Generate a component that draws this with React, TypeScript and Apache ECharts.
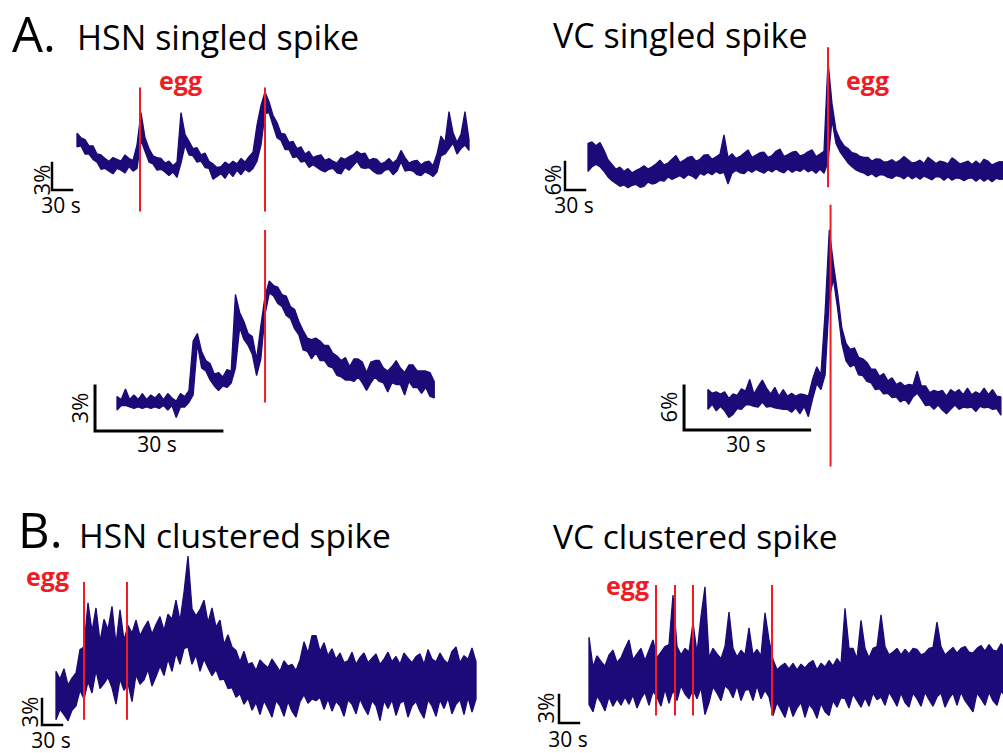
import React, { useEffect, useRef } from "react";
import * as echarts from "echarts";

const NAVY = "#1b0a78";
const RED = "#ee1c25";
const FONT = '"Open Sans", "Noto Sans", sans-serif';

// sample intervals (s)
const dtOverview = 6;
const dtZoom = 1;

// Each noisy ΔF/F (%) trace is kept as its upper and lower envelope.

// A. HSN singled spike (overview)
const hsnSingleHigh = [
  6.3, 5.8, 5.6, 4.9, 4.9, 4.0, 3.9, 3.5, 3.2, 3.6,
  3.4, 3.2, 3.9, 3.5, 3.3, 5.0, 8.6, 5.8, 4.6, 3.8,
  3.6, 3.5, 3.0, 3.2, 2.7, 3.1, 8.6, 6.2, 5.4, 4.6,
  4.7, 3.9, 4.1, 3.2, 2.9, 2.5, 2.6, 3.1, 2.8, 3.2,
  2.9, 3.5, 3.1, 3.7, 4.2, 7.2, 9.4, 10.9, 9.8, 8.3,
  7.5, 6.3, 6.2, 5.3, 5.4, 4.6, 4.8, 4.0, 4.3, 3.6,
  3.8, 3.9, 3.3, 3.5, 3.2, 3.0, 3.6, 3.4, 3.7, 3.9,
  4.3, 4.0, 4.1, 3.3, 3.5, 3.4, 2.9, 3.1, 3.5, 3.0,
  3.4, 4.4, 3.6, 3.0, 3.2, 3.3, 2.8, 3.1, 3.2, 2.7,
  4.0, 6.0, 5.3, 8.7, 6.4, 5.3, 6.2, 8.7, 5.6,
];
const hsnSingleLow = [
  4.8, 4.9, 4.0, 4.0, 3.4, 3.1, 2.3, 2.4, 2.1, 1.8,
  2.4, 2.2, 1.9, 2.6, 2.1, 2.4, 5.5, 4.3, 3.1, 2.9,
  2.2, 2.3, 2.0, 1.6, 2.0, 1.4, 3.0, 5.0, 3.9, 3.8,
  3.1, 3.2, 2.5, 2.4, 1.2, 1.5, 1.8, 1.3, 2.0, 1.5,
  2.2, 1.7, 2.3, 2.0, 2.4, 3.2, 5.0, 8.5, 8.6, 7.2,
  5.8, 5.5, 4.5, 4.5, 3.6, 3.7, 3.1, 3.2, 2.5, 2.8,
  2.5, 2.2, 2.0, 2.3, 2.4, 1.9, 1.8, 2.5, 2.2, 2.7,
  3.2, 2.5, 2.4, 2.5, 2.1, 1.8, 1.8, 2.2, 2.3, 1.7,
  2.1, 3.1, 2.1, 2.2, 2.1, 1.7, 1.6, 2.0, 1.8, 1.5,
  2.0, 3.8, 4.0, 4.6, 5.2, 4.0, 4.6, 5.0, 4.4,
];

// A. VC singled spike (overview)
const vcSingleHigh = [
  10.0, 10.3, 9.5, 10.2, 8.5, 6.5, 5.5, 4.5, 4.9, 4.0,
  4.6, 3.7, 4.2, 4.6, 5.2, 4.5, 5.0, 5.6, 6.4, 5.4,
  5.8, 6.6, 7.4, 5.9, 6.4, 7.0, 7.2, 6.2, 6.6, 7.5,
  7.6, 6.6, 7.1, 7.7, 11.8, 7.0, 7.8, 6.8, 7.2, 7.9,
  8.6, 7.0, 7.5, 8.0, 8.1, 7.0, 7.4, 8.3, 8.8, 7.2,
  7.6, 8.1, 8.3, 7.3, 7.6, 8.2, 8.6, 7.2, 7.7, 8.3,
  27.5, 18.5, 12.8, 10.8, 9.5, 8.9, 8.0, 7.8, 7.2, 7.0,
  7.0, 6.2, 6.7, 6.6, 6.0, 6.1, 6.5, 5.9, 6.4, 7.2,
  6.5, 5.8, 6.0, 6.4, 5.7, 7.0, 6.4, 5.7, 6.2, 6.0,
  5.6, 6.9, 6.3, 5.6, 5.9, 6.2, 5.5, 6.2, 5.5, 6.6,
  6.2, 5.4, 5.8, 6.1, 6.0,
];
const vcSingleLow = [
  4.0, 5.0, 5.5, 5.0, 4.0, 2.8, 2.0, 1.4, 0.8, 1.1,
  0.5, 1.0, 1.2, 0.6, 0.8, 1.7, 1.3, 1.5, 2.1, 1.9,
  2.8, 2.3, 2.7, 3.1, 2.5, 3.3, 3.0, 2.4, 3.6, 3.2,
  3.8, 3.3, 4.0, 3.5, 3.8, 1.3, 3.6, 4.2, 3.7, 3.5,
  4.3, 3.8, 4.4, 4.0, 3.6, 4.3, 3.9, 4.5, 4.0, 3.7,
  4.5, 3.8, 4.3, 4.0, 4.6, 3.9, 4.3, 3.6, 4.5, 3.6,
  6.0, 15.0, 10.0, 8.2, 7.0, 5.8, 5.0, 4.3, 3.9, 3.6,
  3.1, 3.5, 2.8, 3.3, 3.2, 2.7, 2.5, 3.1, 2.9, 2.4,
  3.1, 2.4, 2.9, 2.3, 3.0, 2.6, 2.2, 2.9, 2.8, 2.1,
  2.8, 2.1, 2.6, 2.5, 2.0, 2.5, 2.6, 1.9, 2.6, 1.9,
  2.5, 1.8, 2.5, 2.3, 2.4,
];

// A. HSN singled spike (expanded)
const hsnZoomHigh = [
  2.3, 2.1, 2.8, 2.1, 2.4, 2.1, 2.5, 2.1, 2.4, 2.2,
  2.5, 2.1, 2.5, 2.2, 2.0, 2.5, 2.3, 2.7, 6.0, 6.5,
  5.3, 4.7, 4.5, 3.8, 3.9, 3.6, 4.1, 4.0, 9.1, 7.9,
  7.3, 6.5, 6.3, 4.8, 7.0, 9.0, 10.0, 9.7, 9.6, 9.1,
  9.0, 8.3, 8.1, 7.3, 6.7, 6.2, 6.1, 6.2, 6.0, 5.7,
  5.7, 5.2, 5.0, 4.7, 4.9, 4.3, 4.8, 4.8, 4.6, 3.9,
  4.6, 4.7, 4.7, 4.2, 4.0, 4.3, 4.7, 4.2, 3.9, 4.4,
  4.4, 4.0, 4.0, 4.0, 3.9, 3.3,
];
const hsnZoomLow = [
  1.4, 1.7, 1.7, 1.6, 1.5, 1.6, 1.5, 1.6, 1.5, 1.6,
  1.5, 1.7, 1.4, 1.7, 0.9, 1.6, 1.6, 1.9, 2.4, 5.8,
  4.2, 4.0, 3.4, 3.0, 2.7, 3.0, 2.9, 3.2, 4.2, 6.9,
  6.1, 5.7, 5.1, 3.7, 4.8, 7.8, 9.2, 9.0, 8.5, 8.3,
  7.7, 7.5, 6.8, 6.4, 5.4, 5.3, 4.8, 5.2, 4.7, 4.7,
  4.3, 4.2, 3.7, 3.6, 3.4, 3.4, 3.3, 3.6, 3.2, 2.7,
  3.2, 3.6, 3.3, 3.2, 2.6, 3.2, 3.1, 3.1, 2.4, 3.3,
  2.9, 2.9, 2.5, 2.9, 2.3, 2.2,
];

// A. VC singled spike (expanded)
const vcZoomHigh = [
  5.5, 5.0, 5.2, 4.9, 5.2, 4.3, 4.9, 4.7, 5.6, 5.3,
  6.9, 4.9, 5.9, 6.8, 5.7, 4.9, 5.8, 4.6, 5.5, 4.6,
  5.0, 4.6, 4.9, 4.8, 4.6, 6.9, 8.6, 7.5, 16.0, 27.3,
  22.6, 18.6, 13.9, 11.8, 11.0, 11.2, 9.9, 9.7, 9.2, 8.3,
  8.3, 7.3, 7.7, 6.7, 7.1, 6.2, 6.5, 6.0, 6.2, 6.1,
  8.0, 6.0, 6.0, 5.1, 5.4, 5.2, 5.4, 4.6, 5.5, 5.1,
  5.5, 4.8, 5.7, 4.8, 5.2, 4.9, 5.7, 4.8, 5.5, 4.6,
  4.5,
];
const vcZoomLow = [
  2.8, 3.5, 2.6, 3.2, 2.6, 1.7, 2.1, 2.9, 2.8, 3.4,
  3.4, 3.2, 3.1, 3.8, 3.1, 3.2, 3.0, 2.9, 2.8, 2.8,
  2.4, 3.0, 2.2, 3.2, 1.8, 4.2, 6.3, 5.5, 7.5, 18.0,
  20.6, 16.5, 11.8, 9.4, 8.6, 8.9, 7.5, 7.4, 6.6, 6.4,
  5.5, 5.6, 4.9, 5.0, 4.4, 4.5, 3.8, 4.2, 3.5, 4.5,
  5.0, 4.2, 3.3, 3.4, 2.8, 3.4, 2.7, 2.2, 2.8, 3.4,
  2.8, 3.1, 3.0, 3.1, 2.5, 3.2, 3.0, 3.1, 2.8, 2.9,
  2.0,
];

// B. HSN clustered spike
const hsnClusterHigh = [
  6.2, 5.3, 6.5, 4.6, 5.4, 6.0, 8.7, 9.0, 14.1, 10.8,
  13.5, 9.6, 12.2, 11.0, 13.7, 9.3, 13.3, 9.8, 11.5, 10.6,
  12.1, 10.3, 11.2, 12.0, 10.5, 11.6, 12.5, 10.9, 12.8, 12.2,
  14.4, 12.0, 15.3, 19.5, 13.4, 12.6, 13.3, 14.4, 11.8, 13.5,
  11.3, 12.1, 9.3, 10.4, 9.0, 8.6, 7.3, 8.5, 7.0, 7.2,
  6.3, 7.5, 7.0, 6.6, 7.6, 6.9, 6.2, 7.4, 6.8, 7.0,
  6.3, 7.5, 9.6, 8.3, 10.3, 10.3, 8.5, 9.5, 8.0, 8.8,
  7.6, 8.3, 7.2, 7.4, 8.4, 7.0, 7.8, 8.3, 7.2, 7.7,
  8.2, 7.0, 7.6, 8.4, 7.3, 7.9, 7.0, 8.3, 7.7, 7.2,
  7.9, 8.2, 7.0, 8.7, 7.6, 7.3, 8.3, 7.5, 7.1, 8.5,
  9.0, 7.2, 8.0, 7.6, 8.9, 7.3,
];
const hsnClusterLow = [
  0.6, 1.8, 1.2, 0.5, 1.7, 2.2, 4.0, 3.0, 5.0, 3.7,
  6.3, 4.2, 4.8, 5.5, 4.3, 2.4, 5.3, 4.0, 4.8, 2.7,
  5.8, 4.7, 5.2, 6.4, 4.5, 5.6, 6.8, 5.7, 7.6, 6.2,
  8.3, 7.0, 8.8, 9.0, 7.0, 8.1, 6.2, 7.6, 6.6, 5.7,
  6.4, 5.2, 5.3, 4.2, 4.3, 3.2, 3.6, 2.4, 3.1, 1.7,
  2.6, 1.2, 2.8, 1.9, 0.9, 2.8, 2.2, 1.0, 2.7, 1.6,
  0.9, 2.7, 3.5, 2.5, 3.0, 2.8, 3.2, 1.8, 3.0, 1.6,
  2.7, 2.2, 1.0, 2.9, 2.4, 1.3, 3.0, 2.0, 1.2, 2.8,
  2.2, 0.5, 2.8, 1.9, 2.9, 1.1, 2.5, 2.8, 0.9, 2.2,
  2.7, 1.6, 0.8, 2.9, 2.2, 1.0, 2.9, 1.9, 3.1, 1.3,
  2.4, 2.9, 1.2, 3.2, 1.5, 3.0,
];

// B. VC clustered spike
const vcClusterHigh = [
  9.2, 6.0, 7.2, 6.6, 6.1, 7.3, 7.8, 6.5, 7.0, 8.0,
  8.9, 6.8, 7.4, 8.0, 6.7, 7.8, 8.9, 7.0, 7.6, 8.2,
  8.4, 13.7, 8.2, 7.3, 8.0, 7.6, 10.8, 7.5, 11.4, 14.6,
  7.0, 8.0, 7.4, 6.9, 8.2, 11.9, 8.0, 7.1, 7.8, 7.3,
  10.2, 7.3, 7.9, 7.2, 11.8, 8.9, 6.8, 5.7, 6.1, 6.4,
  5.8, 6.4, 5.7, 6.3, 5.9, 6.4, 6.7, 5.7, 6.4, 6.0,
  6.7, 6.1, 6.9, 6.3, 12.3, 8.0, 8.0, 6.9, 11.0, 8.0,
  7.0, 8.0, 8.2, 11.6, 8.2, 7.3, 7.6, 8.0, 7.3, 7.9,
  7.4, 8.0, 7.9, 7.3, 7.5, 8.0, 8.1, 10.8, 8.2, 7.3,
  7.7, 8.1, 7.5, 8.0, 8.2, 7.6, 7.5, 8.0, 8.3, 7.7,
  8.4, 7.8, 7.7, 8.5, 8.0,
];
const vcClusterLow = [
  2.0, 1.2, 2.9, 2.2, 1.3, 2.8, 1.8, 2.6, 1.9, 2.8,
  2.0, 3.0, 1.6, 2.6, 3.3, 1.9, 3.4, 2.8, 1.8, 3.6,
  2.1, 3.5, 2.4, 4.0, 3.1, 2.6, 3.6, 2.6, 3.8, 0.9,
  2.2, 3.9, 3.2, 2.4, 4.0, 3.6, 2.7, 4.0, 2.4, 3.5,
  3.6, 2.4, 4.0, 2.6, 3.5, 2.8, 0.8, 2.2, 1.4, 0.6,
  2.1, 0.7, 1.6, 2.2, 0.6, 2.0, 1.5, 0.5, 2.1, 1.2,
  0.8, 2.4, 1.7, 2.7, 2.6, 1.6, 3.1, 2.4, 1.7, 2.7,
  1.8, 3.2, 2.5, 2.8, 1.9, 3.3, 2.6, 1.8, 3.2, 2.2,
  1.7, 3.2, 2.6, 1.8, 3.3, 2.5, 1.8, 2.8, 3.2, 1.7,
  2.6, 3.2, 1.9, 3.3, 2.4, 1.8, 1.2, 3.2, 2.6, 1.9,
  3.3, 2.4, 1.9, 3.4, 2.9,
];

// egg-laying event times (s)
const eggHsnSingleOverview = [94.5, 282];
const eggVcSingleOverview = [360];
const eggHsnSingleZoom = [35.0];
const eggVcSingleZoom = [29.3];
const eggHsnCluster = [42, 106.5];
const eggVcCluster = [100.5, 129, 156, 274.5];

// scale bars
const barSeconds = 30;
const barPctHsn = 3;
const barPctVc = 6;
const barPctCluster = 3;

const panels = [
  { high: hsnSingleHigh, low: hsnSingleLow, dt: dtOverview, eggs: eggHsnSingleOverview, eggSpan: [-2.4, 11.4],
    bar: { t: -37.5, pct: barPctHsn, w: 2.5 }, grid: { left: 47, top: 82, width: 422, height: 135 }, x: [-45, 588], y: [-3, 12] },
  { high: vcSingleHigh, low: vcSingleLow, dt: dtOverview, eggs: eggVcSingleOverview, eggSpan: [0.6, 30.6],
    bar: { t: -34.5, pct: barPctVc, w: 2.5 }, grid: { left: 558, top: 40.6, width: 445, height: 177.5 }, x: [-45, 622.5], y: [-6, 32] },
  { high: hsnZoomHigh, low: hsnZoomLow, dt: dtZoom, eggs: eggHsnSingleZoom, eggSpan: [1.9, 13.4],
    bar: { t: -5.2, pct: barPctHsn, w: 3 }, grid: { left: 87.4, top: 221, width: 355.3, height: 225 }, x: [-7, 77], y: [-1, 14] },
  { high: vcZoomHigh, low: vcZoomLow, dt: dtZoom, eggs: eggVcSingleZoom, eggSpan: [-5.0, 30.7],
    bar: { t: -5.7, pct: barPctVc, w: 3 }, grid: { left: 678.6, top: 199, width: 325.5, height: 271.2 }, x: [-7, 70.5], y: [-5.5, 31.5] },
  { high: hsnClusterHigh, low: hsnClusterLow, dt: dtOverview, eggs: eggHsnCluster, eggSpan: [0.6, 16.5],
    bar: { t: -21, pct: barPctCluster, w: 2.5 }, grid: { left: 30, top: 547.3, width: 450, height: 190.7 }, x: [-39, 636], y: [-1.5, 20.5] },
  { high: vcClusterHigh, low: vcClusterLow, dt: dtOverview, eggs: eggVcCluster, eggSpan: [0.8, 14.8],
    bar: { t: -45, pct: barPctCluster, w: 2.5 }, grid: { left: 549, top: 573.7, width: 454, height: 163.3 }, x: [-60, 621], y: [-1.5, 16] },
];

function txt(text: string, x: number, y: number, size: number, opts: any = {}) {
  return {
    type: "text",
    x,
    y,
    rotation: opts.rotation || 0,
    z: 100,
    silent: true,
    style: {
      text,
      font: `${opts.bold ? "bold " : ""}${size}px ${FONT}`,
      fill: opts.color || "#000",
      textAlign: opts.align || "left",
      textVerticalAlign: "middle",
    },
  };
}

export default function App() {
  const ref = useRef<HTMLDivElement>(null);
  useEffect(() => {
    if (!ref.current) return;
    const chart = echarts.init(ref.current, null, { renderer: "svg" });
    const grid: any[] = [];
    const xAxis: any[] = [];
    const yAxis: any[] = [];
    const series: any[] = [];
    panels.forEach((p, gi) => {
      grid.push({ ...p.grid, containLabel: false, show: false });
      xAxis.push({ type: "value", gridIndex: gi, min: p.x[0], max: p.x[1], show: false });
      yAxis.push({ type: "value", gridIndex: gi, min: p.y[0], max: p.y[1], show: false });
      // noisy trace: band between its lower and upper envelope
      series.push({
        type: "custom",
        coordinateSystem: "cartesian2d",
        xAxisIndex: gi,
        yAxisIndex: gi,
        data: p.high.map((v, i) => [i * p.dt, p.low[i], v]),
        encode: { x: 0, y: [1, 2] },
        silent: true,
        z: 2,
        renderItem: (params: any, api: any) => {
          if (params.dataIndex !== 0) return null;
          const top = p.high.map((v, i) => api.coord([i * p.dt, v]));
          const bottom = p.low.map((v, i) => api.coord([i * p.dt, v])).reverse();
          return {
            type: "polygon",
            shape: { points: top.concat(bottom) },
            style: { fill: NAVY, stroke: NAVY, lineWidth: 1.3, lineJoin: "bevel" },
          };
        },
      });
      p.eggs.forEach((t) => {
        series.push({
          type: "line",
          xAxisIndex: gi,
          yAxisIndex: gi,
          data: [[t, p.eggSpan[0]], [t, p.eggSpan[1]]],
          showSymbol: false,
          symbol: "none",
          silent: true,
          z: 5,
          lineStyle: { color: RED, width: 2 },
        });
      });
      series.push({
        type: "line",
        xAxisIndex: gi,
        yAxisIndex: gi,
        data: [[p.bar.t, p.bar.pct], [p.bar.t, 0], [p.bar.t + barSeconds, 0]],
        showSymbol: false,
        symbol: "none",
        silent: true,
        z: 5,
        lineStyle: { color: "#000", width: p.bar.w, join: "miter", cap: "square" },
      });
    });

    const graphic = [
      txt("A.", 12, 33, 49),
      txt("HSN singled spike", 77, 37, 34),
      txt("VC singled spike", 553, 35, 34),
      txt("B.", 18, 529, 49),
      txt("HSN clustered spike", 79, 535, 33.5),
      txt("VC clustered spike", 553, 536, 33.5),
      txt("egg", 159, 80, 25, { bold: true, color: RED }),
      txt("egg", 846, 80, 25, { bold: true, color: RED }),
      txt("egg", 26, 576, 25, { bold: true, color: RED }),
      txt("egg", 606, 585, 25, { bold: true, color: RED }),
      txt("30 s", 61, 205, 21, { align: "center" }),
      txt("30 s", 574, 205, 21, { align: "center" }),
      txt("30 s", 157, 444, 21, { align: "center" }),
      txt("30 s", 746, 444, 21, { align: "center" }),
      txt("30 s", 51, 740, 21, { align: "center" }),
      txt("30 s", 568, 739, 21, { align: "center" }),
      txt("3%", 41, 180, 22, { align: "center", rotation: Math.PI / 2 }),
      txt("6%", 552, 180, 22, { align: "center", rotation: Math.PI / 2 }),
      txt("3%", 79, 408, 22, { align: "center", rotation: Math.PI / 2 }),
      txt("6%", 668, 407, 22, { align: "center", rotation: Math.PI / 2 }),
      txt("3%", 29, 712, 22, { align: "center", rotation: Math.PI / 2 }),
      txt("3%", 545, 708, 22, { align: "center", rotation: Math.PI / 2 }),
    ];

    chart.setOption({
      animation: false,
      backgroundColor: "#fff",
      grid,
      xAxis,
      yAxis,
      series,
      graphic,
    });
    return () => chart.dispose();
  }, []);
  return (
    <div
      ref={ref}
      style={{ position: "absolute", left: 0, top: 0, width: 1003, height: 753 }}
    />
  );
}
